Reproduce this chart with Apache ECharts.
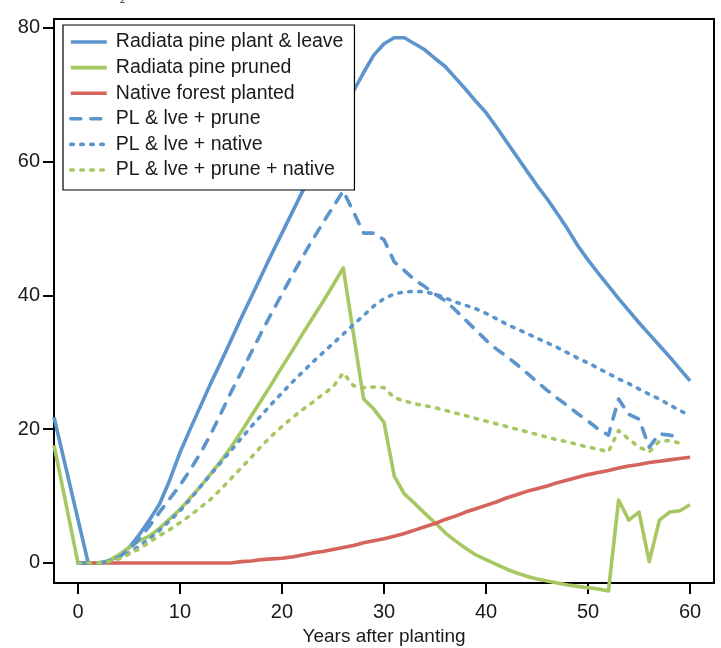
<!DOCTYPE html>
<html>
<head>
<meta charset="utf-8">
<script src="https://cdn.jsdelivr.net/npm/echarts@6/dist/echarts.min.js"></script>
<style>
html,body{margin:0;padding:0;background:#fff;}
#chart{width:721px;height:648px;}
</style>
</head>
<body>
<div id="chart"></div>
<script>
// x values (years after planting); first entry is the left edge of the plot
const years = [-2.35, 0,1,2,3,4,5,6,7,8,9,10,11,12,13,14,15,16,17,18,19,20,21,22,23,24,25,26,27,28,29,30,
  31,32,33,34,35,36,37,38,39,40,41,42,43,44,45,46,47,48,49,50,51,52,53,54,55,56,57,58,59,60];

const pineLeave = [21.8, 6.5,0,0,0.3,1,2.3,4.2,6.4,8.8,12.4,16.5,20,23.4,26.8,30,33.3,36.6,39.8,43,46.2,49.3,52.4,55.5,58.5,61.5,64.5,67.5,70.5,73.3,75.9,77.6,
  78.5,78.5,77.6,76.7,75.4,74.2,72.5,70.8,69,67.3,65.2,63,60.8,58.6,56.4,54.4,52.2,49.9,47.4,45.3,43.3,41.4,39.5,37.7,35.9,34.2,32.5,30.8,29,27.2];

const pinePruned = [17.6, 0,0,0,0.3,1.2,2.3,3.3,4,5.2,6.6,8,9.7,11.4,13.3,15.2,17.3,19.6,22,24.4,26.8,29.3,31.7,34.2,36.6,39,41.5,44.1,34.3,24.5,23,21,
  13,10.3,8.9,7.4,6,4.5,3.3,2.2,1.2,0.5,-0.2,-0.9,-1.5,-2,-2.4,-2.7,-3,-3.3,-3.5,-3.7,-3.9,-4.2,9.4,6.4,7.6,0.2,6.4,7.6,7.8,8.7];

const nativePlanted = [null, 0,0,0,0,0,0,0,0,0,0,0,0,0,0,0,0,0.2,0.3,0.5,0.6,0.7,0.9,1.2,1.5,1.7,2.0,2.3,2.6,3.0,3.3,3.6,
  4.0,4.4,4.9,5.4,5.9,6.5,7.0,7.6,8.1,8.6,9.1,9.7,10.2,10.7,11.1,11.5,12.0,12.4,12.8,13.2,13.5,13.8,14.2,14.5,14.7,15.0,15.2,15.4,15.6,15.8];

const lvePrune = [null, 0,0,0,0.2,0.8,2,3.6,5.5,7.6,9.6,11.6,13.9,16.4,19.2,22.3,25.5,28.5,31.5,34.5,37.4,40.2,43,45.7,48.3,50.8,53.2,55.6,52.5,49.3,49.3,48.3,
  45,43.7,42.3,41.3,40.2,39.2,37.8,36.3,34.8,33.3,32,30.9,29.7,28.4,27.1,25.8,24.6,23.5,22.3,21.2,20,19.1,24.5,22.2,21.5,17.3,19.3,19.1,18.8,null];

const lveNative = [null, 0,0,0,0.3,0.8,1.5,2.5,3.6,4.9,6.3,7.8,9.5,11.4,13.2,15,16.8,18.6,20.4,22.1,23.8,25.4,27,28.5,30,31.4,32.8,34.2,35.6,37,38.4,39.5,
  40.2,40.5,40.6,40.5,40.2,39.6,39,38.5,38,37.3,36.5,35.7,35,34.3,33.6,32.9,32.2,31.4,30.6,29.9,29.1,28.3,27.5,26.8,26,25.2,24.5,23.6,22.8,22.0];

const lvePruneNative = [null, 0,0,0,0.2,0.6,1.3,2.1,3.1,4.1,5,6,7.1,8.3,9.5,11,12.6,14.2,15.8,17.5,19,20.4,21.7,22.9,24,25.2,26.3,28.4,26.5,26.2,26.3,26.2,
  24.7,24.2,23.8,23.5,23.2,22.8,22.4,22,21.6,21.2,20.8,20.4,20,19.6,19.2,18.8,18.4,18.1,17.7,17.3,17,16.6,19.8,18.5,17.3,16.6,18.2,18.3,17.9,null];

const xTicks = [0,10,20,30,40,50,60];
const yTicks = [0,20,40,60,80];
const seriesNames = ['Radiata pine plant & leave','Radiata pine pruned','Native forest planted','PL & lve + prune','PL & lve + native','PL & lve + prune + native'];
const xName = 'Years after planting';

const BLUE = '#5b95cc', GREEN = '#a6c761', RED = '#d4645c';
const FONT = '"Liberation Sans", Arial, sans-serif';
const TXT = '#1a1a1a';

function pairs(vals){ return years.map((x,i)=>[x, vals[i]]); }
function mk(name, vals, color, dash){
  return {
    name, type:'line', data: pairs(vals), symbol:'none', showSymbol:false, clip:false,
    lineStyle:{color, width:3.6, type: dash || 'solid', cap: dash ? 'round':'butt', join:'round'},
    itemStyle:{color}, emphasis:{disabled:true}, animation:false
  };
}

const chart = echarts.init(document.getElementById('chart'));
chart.setOption({
  animation:false,
  backgroundColor:'#fff',
  graphic:[{type:'text', left:120, top:-4, style:{text:'2', fontSize:9, fill:TXT, fontFamily:FONT}}],
  grid:{left:54, right:7, top:19, bottom:65, outerBoundsMode:'none', containLabel:false,
        show:true, borderColor:'#000', borderWidth:2, backgroundColor:'transparent'},
  legend:{
    left:63, top:25, orient:'vertical', selectedMode:false,
    data: seriesNames,
    itemWidth:36, itemHeight:14, itemGap:3.6,
    itemStyle:{opacity:0},
    lineStyle:{width:3.6},
    padding:[6,11,9,6],
    backgroundColor:'#fff', borderColor:'#000', borderWidth:1.2,
    textStyle:{fontSize:19.5, color:TXT, fontFamily:FONT, lineHeight:22, padding:[0,0,0,4]}
  },
  xAxis:{
    type:'value', min:-2.35, max:62.35,
    name:xName, nameLocation:'middle', nameGap:44,
    nameTextStyle:{fontSize:19, color:TXT, fontFamily:FONT},
    axisLine:{show:true, onZero:false, lineStyle:{color:'#000', width:2}},
    axisTick:{show:true, length:11, customValues:xTicks, lineStyle:{color:'#000', width:2}},
    axisLabel:{customValues:xTicks, fontSize:20, color:TXT, fontFamily:FONT, margin:19},
    splitLine:{show:false}
  },
  yAxis:{
    type:'value', min:-3, max:81.3,
    axisLine:{show:true, onZero:false, lineStyle:{color:'#000', width:2}},
    axisTick:{show:true, length:11, customValues:yTicks, lineStyle:{color:'#000', width:2}},
    axisLabel:{customValues:yTicks, fontSize:20, color:TXT, fontFamily:FONT, margin:14},
    splitLine:{show:false}
  },
  series:[
    mk(seriesNames[0], pineLeave, BLUE),
    mk(seriesNames[1], pinePruned, GREEN),
    mk(seriesNames[2], nativePlanted, RED),
    mk(seriesNames[3], lvePrune, BLUE, [10,10]),
    mk(seriesNames[4], lveNative, BLUE, [2.5,7.5]),
    mk(seriesNames[5], lvePruneNative, GREEN, [2.5,7.5])
  ]
});
</script>
</body>
</html>
